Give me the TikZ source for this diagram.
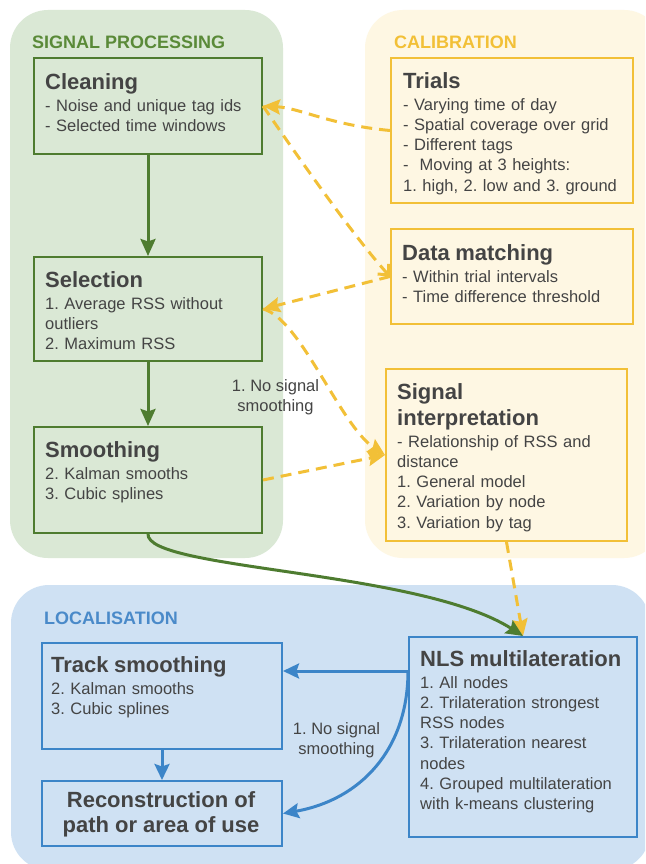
\documentclass[tikz,border=0pt]{standalone}
\usepackage{fontspec}
\setmainfont{Liberation Sans}
\usetikzlibrary{arrows.meta}
\setlength\parindent{0pt}
\setlength\parskip{0pt}
\frenchspacing
\definecolor{gfill}{HTML}{DAE8D5}
\definecolor{gline}{HTML}{4E7C30}
\definecolor{gtitle}{HTML}{5A8A38}
\definecolor{yfill}{HTML}{FEF7E3}
\definecolor{yline}{HTML}{F2C037}
\definecolor{bfill}{HTML}{CFE1F3}
\definecolor{bline}{HTML}{3C85C8}
\definecolor{btitle}{HTML}{4A8AC9}
\definecolor{txtc}{HTML}{444444}
\newcommand\ttl[1]{{\fontsize{22}{26}\selectfont\bfseries\rule{0pt}{17pt}#1\par}\vspace{1.8pt}}
\tikzset{
  panel/.style={rounded corners=38pt, draw=none},
  gbox/.style={draw=gline, line width=2pt, anchor=north west, inner sep=0pt},
  ybox/.style={draw=yline, line width=2pt, anchor=north west, inner sep=0pt},
  bbox/.style={draw=bline, line width=2pt, anchor=north west, inner sep=0pt},
  txtbox/.style={anchor=north west, inner sep=0pt, text width=240pt, align=left,
    font=\fontsize{16.5}{20.2}\selectfont, text=txtc},
  sect/.style={anchor=base west, inner sep=0pt, font=\fontsize{18}{20}\selectfont\bfseries},
  lbl/.style={anchor=north, inner sep=0pt, align=center, font=\fontsize{16.5}{20}\selectfont, text=txtc},
  garrow/.style={draw=gline, line width=3pt, -{Stealth[length=17pt,width=15pt,inset=2.5pt]}},
  barrow/.style={draw=bline, line width=3pt, -{Stealth[length=16pt,width=15pt,inset=2.5pt]}},
  ydash/.style={draw=yline, line width=3pt, dash pattern=on 11pt off 7pt},
  ytip/.style={-{Stealth[length=17pt,width=15pt,inset=2.5pt]}},
  yopen/.style={-{Straight Barb[length=8pt,width=15pt]}}
}
\begin{document}
\begin{tikzpicture}[x=1pt,y=-1pt]
\useasboundingbox (0,0) rectangle (645,864);
\clip (0,0) rectangle (645,864);
\fill[white] (0,0) rectangle (645,864);
% panels
\fill[panel, gfill] (10,10) rectangle (283,558);
\fill[panel, yfill] (365,10) rectangle (662,558);
\fill[panel, bfill] (11,585) rectangle (650,870);
\node[sect, text=gtitle] (spT) at (32,49) {SIGNAL PROCESSING};
\node[sect, text=yline] (calT) at (394,49) {CALIBRATION};
\node[sect, text=btitle] (locT) at (44,624) {LOCALISATION};
% boxes
\node[gbox, minimum width=228pt, minimum height=96pt] (clean) at (33,57) {};
\node[gbox, minimum width=228pt, minimum height=104pt] (sel) at (33,256) {};
\node[gbox, minimum width=228pt, minimum height=106pt] (smooth) at (33,426) {};
\node[ybox, minimum width=242pt, minimum height=145pt] (trials) at (390,57) {};
\node[ybox, minimum width=242pt, minimum height=95pt] (datam) at (390,228) {};
\node[ybox, minimum width=241pt, minimum height=172pt] (sigi) at (385,368) {};
\node[bbox, minimum width=240pt, minimum height=106pt] (track) at (41,642) {};
\node[bbox, minimum width=240pt, minimum height=65pt] (recon) at (41,780) {};
\node[bbox, minimum width=228pt, minimum height=200pt] (nls) at (408,636) {};
% texts
\node[txtbox] (cleanT) at (45,72) {\ttl{Cleaning}- Noise and unique tag ids\\- Selected time windows};
\node[txtbox] (selT) at (45,270) {\ttl{Selection}1. Average RSS without\\outliers\\2. Maximum RSS};
\node[txtbox] (smoothT) at (45,440) {\ttl{Smoothing}2. Kalman smooths\\3. Cubic splines};
\node[txtbox] (trialsT) at (403,71) {\ttl{Trials}- Varying time of day\\- Spatial coverage over grid\\- Different tags\\- \ Moving at 3 heights:\\1. high, 2. low and 3. ground};
\node[txtbox] (datamT) at (402,243) {\ttl{Data matching}- Within trial intervals\\- Time difference threshold};
\node[txtbox] (sigiT) at (397,382) {\ttl{Signal\\interpretation}- Relationship of RSS and\\distance\\1. General model\\2. Variation by node\\3. Variation by tag};
\node[txtbox] (trackT) at (51,655) {\ttl{Track smoothing}2. Kalman smooths\\3. Cubic splines};
\node[txtbox] (nlsT) at (420,649) {\ttl{NLS multilateration}1. All nodes\\2. Trilateration strongest\\RSS nodes\\3. Trilateration nearest\\nodes\\4. Grouped multilateration\\with k-means clustering};
\node[anchor=north, align=center, inner sep=0pt, text=txtc, font=\fontsize{22}{25}\selectfont\bfseries] (reconT) at (161,790) {\rule{0pt}{17pt}Reconstruction of\\path or area of use};
\node[lbl] (lab1) at (275.5,378) {\rule{0pt}{13pt}1. No signal\\smoothing};
\node[lbl] (lab2) at (336.5,721) {\rule{0pt}{13pt}1. No signal\\smoothing};
% connectors
\draw[garrow] (clean.south) -- (sel.north);
\draw[garrow] (sel.south) -- (smooth.north);
\draw[ydash, ytip] (trials.west) .. controls (330,125) and (300,108) .. (clean.east);
\draw[ydash, yopen] (clean.east) .. controls (300,160) and (355,238) .. (datam.west);
\draw[ydash, ytip] (datam.west) -- (sel.east);
\draw[ydash, ytip] (sel.east) .. controls (300,318) and (340,425) .. (sigi.west);
\draw[ydash, ytip] (smooth.east) -- (sigi.west);
\draw[ydash, ytip] (sigi.south) -- (nls.north);
\draw[garrow] (smooth.south) .. controls (146,570) and (420,570) .. (nls.north);
\coordinate (nlsL) at (408,671);
\draw[barrow] (nlsL) -- (nlsL -| track.east);
\draw[barrow] (nlsL) .. controls (408,750) and (360,800) .. (recon.east);
\draw[barrow] (track.south) -- (recon.north);
\end{tikzpicture}
\end{document}
